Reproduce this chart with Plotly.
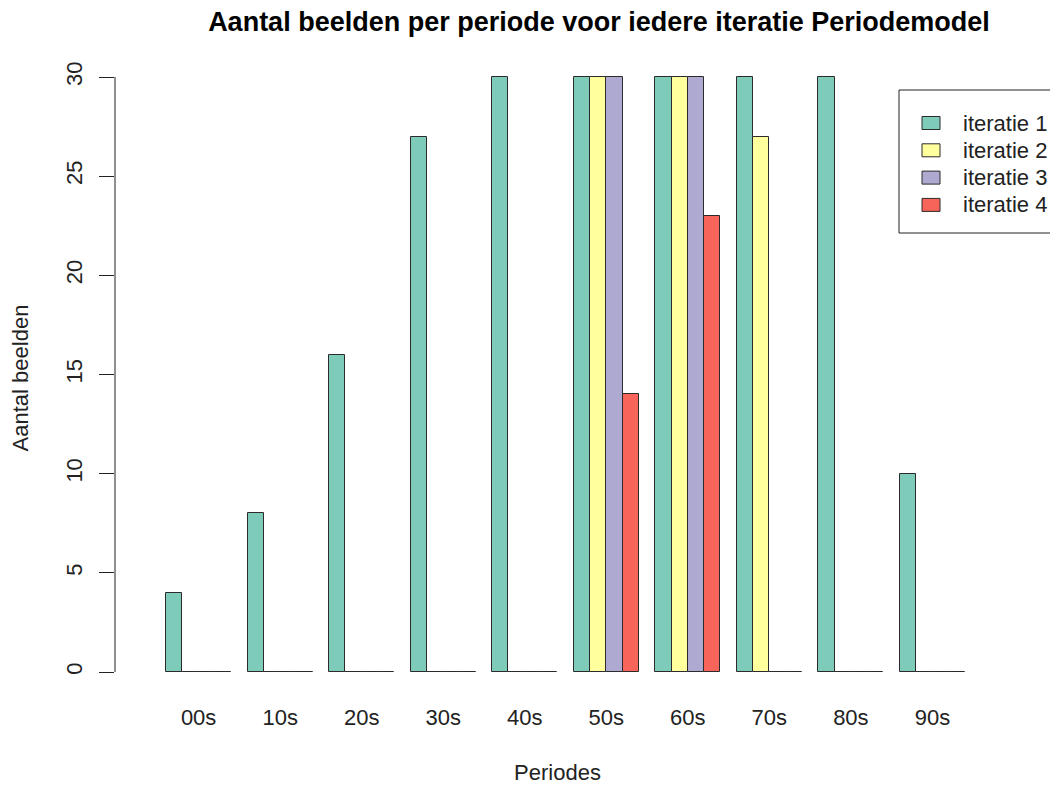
import plotly.graph_objects as go

periods = ["00s", "10s", "20s", "30s", "40s", "50s", "60s", "70s", "80s", "90s"]
series_names = ["iteratie 1", "iteratie 2", "iteratie 3", "iteratie 4"]
iteratie1 = [4, 8, 16, 27, 30, 30, 30, 30, 30, 10]
iteratie2 = [0, 0, 0, 0, 0, 30, 30, 27, 0, 0]
iteratie3 = [0, 0, 0, 0, 0, 30, 30, 0, 0, 0]
iteratie4 = [0, 0, 0, 0, 0, 14, 23, 0, 0, 0]
colors = ["#7FCBB9", "#FFFF9E", "#ADA9D0", "#F6645A"]
y_ticks = [0, 5, 10, 15, 20, 25, 30]

series = [iteratie1, iteratie2, iteratie3, iteratie4]
n_series = len(series)
group_w = n_series + 1  # R barplot beside=TRUE: space of one bar before each group

FONT = "Liberation Sans, Arial, Helvetica, sans-serif"
FS = 22
OUTLINE = "#2b2b2b"

fig = go.Figure()
for s, (name, vals, col) in enumerate(zip(series_names, series, colors)):
    xs = [g * group_w + s + 1.5 for g in range(len(periods))]
    fig.add_trace(go.Bar(
        x=xs, y=vals, width=1, name=name, showlegend=False,
        marker=dict(color=col, line=dict(color=OUTLINE, width=1)),
    ))

centers = [g * group_w + 1 + n_series / 2 for g in range(len(periods))]

# page body has an 8px default margin; compensate
W, H = 1050, 777
ml, mr, mt, mb = 107, 58, 52, 89
pw, ph = W - ml - mr, H - mt - mb
OFF = 8


def px(X):
    return (X - OFF - ml) / pw


def py(Y):
    return (mt + ph - (Y - OFF)) / ph


fig.update_layout(
    width=W, height=H,
    margin=dict(l=ml, r=mr, t=mt, b=mb, autoexpand=False),
    plot_bgcolor="white", paper_bgcolor="white",
    barmode="overlay", bargap=0,
    font=dict(family=FONT, size=FS, color="#111"),
    title=dict(
        text="<b>Aantal beelden per periode voor iedere iteratie Periodemodel</b>",
        x=591 / W, xref="container", xanchor="center",
        y=1 - 14 / H, yref="container", yanchor="middle",
        font=dict(family=FONT, size=27, color="#000"),
    ),
    xaxis=dict(
        range=[-2.128, 52.146], showgrid=False, zeroline=False, showline=False,
        tickmode="array", tickvals=centers, ticktext=periods, ticks="",
        ticklabelstandoff=6,
        tickfont=dict(size=FS, color="#222"),
        title=dict(text="Periodes", font=dict(size=FS, color="#222"), standoff=36),
    ),
    yaxis=dict(
        range=[-1.21, 30.857], showgrid=False, zeroline=False, showline=False,
        tickmode="array", tickvals=y_ticks, ticks="outside", ticklen=15,
        tickcolor="#222", tickwidth=1, tickangle=-90, ticklabelstandoff=8,
        tickfont=dict(size=FS, color="#222"),
        title=dict(text="Aantal beelden", font=dict(size=FS, color="#222"), standoff=30),
    ),
    showlegend=False,
)

# y axis line spanning the tick range (R style)
fig.add_shape(type="line", xref="paper", yref="y", x0=0, x1=0,
              y0=y_ticks[0], y1=y_ticks[-1], line=dict(color="#222", width=1))

# legend box (R style), built from the series names and colours
fig.add_shape(type="rect", xref="paper", yref="paper",
              x0=px(899), x1=px(1075), y0=py(233), y1=py(90),
              line=dict(color="#222", width=1), fillcolor="white", layer="above")
row0, row_step = 123, 27.3
for i, (name, col) in enumerate(zip(series_names, colors)):
    yc = row0 + i * row_step
    fig.add_shape(type="rect", xref="paper", yref="paper",
                  x0=px(922), x1=px(940), y0=py(yc + 6.5), y1=py(yc - 6.5),
                  line=dict(color=OUTLINE, width=1), fillcolor=col, layer="above")
    fig.add_annotation(xref="paper", yref="paper", x=px(961), y=py(yc),
                       xanchor="left", yanchor="middle", showarrow=False,
                       text=name, font=dict(size=FS, color="#222"))

fig.write_html("out.html")
